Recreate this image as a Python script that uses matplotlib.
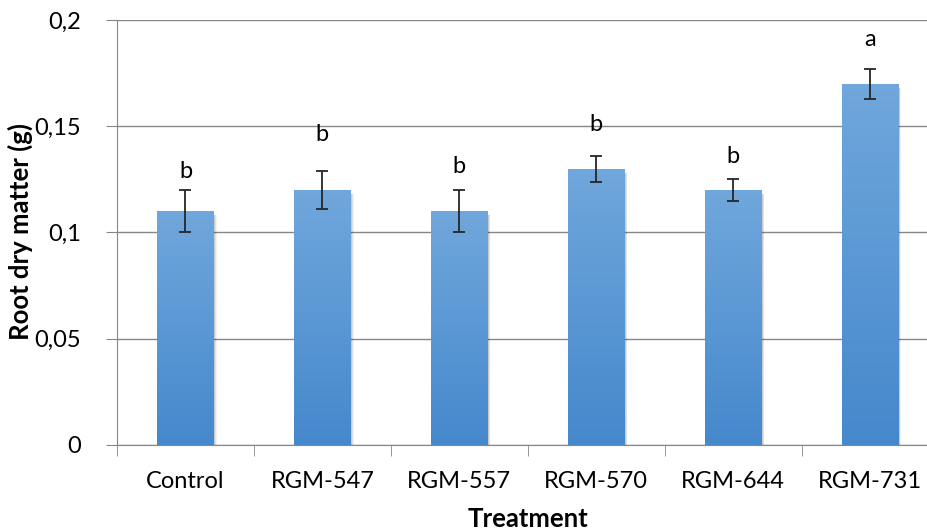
import numpy as np
import matplotlib
matplotlib.use("Agg")
import matplotlib.pyplot as plt
from matplotlib.colors import LinearSegmentedColormap
from matplotlib.ticker import FuncFormatter

# Datos
tratamientos = ["Control", "RGM-547", "RGM-557", "RGM-570", "RGM-644", "RGM-731"]
materia_seca = [0.11, 0.12, 0.11, 0.13, 0.12, 0.17]
error = [0.010, 0.009, 0.010, 0.006, 0.005, 0.007]
letras = ["b", "b", "b", "b", "b", "a"]
pos_letras = [0.1285, 0.146, 0.131, 0.151, 0.136, 0.191]

plt.rcParams["font.family"] = ["Lato", "DejaVu Sans"]

fig = plt.figure(figsize=(9.27, 5.31), dpi=100)
ax = fig.add_axes([0.1262, 0.162, 0.8862, 0.8003])

x = np.arange(len(tratamientos))
ancho = 0.41
gris = "#868686"

# grid
ax.set_yticks([0, 0.05, 0.1, 0.15, 0.2])
ax.yaxis.grid(True, color=gris, linewidth=1.0, zorder=0)
ax.set_axisbelow(True)

# sombra de las barras
for xi, v in zip(x, materia_seca):
    for k, a in enumerate([0.09, 0.07, 0.05]):
        d = 0.006 * (k + 1)
        ax.add_patch(plt.Rectangle((xi - ancho / 2 + 0.005, -0.001), ancho + d,
                                   v - 0.001 + d * 0.01, color="black",
                                   alpha=a, lw=0, zorder=1))

# barras con degradado
barras = ax.bar(x, materia_seca, width=ancho, color="none", zorder=2)
cmap = LinearSegmentedColormap.from_list("azul", ["#4588cc", "#70a7dc"])
grad = np.linspace(0, 1, 256).reshape(-1, 1)
for b in barras:
    x0, y0 = b.get_x(), b.get_y()
    w, h = b.get_width(), b.get_height()
    im = ax.imshow(grad, cmap=cmap, aspect="auto", origin="lower",
                   extent=[x0, x0 + w, y0, y0 + h], zorder=2)
    im.set_clip_path(b)
ax.set_xlim(-0.5, len(tratamientos) - 0.5)
ax.set_ylim(0, 0.2)

ax.errorbar(x, materia_seca, yerr=error, fmt="none", ecolor="#262626",
            elinewidth=1.3, capsize=4.5, capthick=1.3, zorder=3)

for xi, l, yl in zip(x, letras, pos_letras):
    ax.text(xi, yl, l, ha="center", va="center", fontsize=17, zorder=4)

# ejes
for s in ["top", "right"]:
    ax.spines[s].set_visible(False)
ax.spines["left"].set_color(gris)
ax.spines["bottom"].set_color(gris)

ax.set_xticks(x)
ax.set_xticklabels(tratamientos, fontsize=17)
ax.set_xticks(np.arange(-0.5, len(tratamientos), 1), minor=True)
ax.tick_params(axis="x", which="major", length=0, pad=19)
ax.tick_params(axis="x", which="minor", length=8, color=gris)
ax.tick_params(axis="y", length=8, color=gris, labelsize=17, pad=18)
ax.yaxis.set_major_formatter(FuncFormatter(
    lambda v, p: "0" if v == 0 else ("%g" % round(v, 3)).replace(".", ",")))

ax.set_xlabel("Treatment", fontsize=18.5, fontweight="bold", va="center")
ax.set_ylabel("Root dry matter (g)", fontsize=18.5, fontweight="bold", va="center")
ax.xaxis.set_label_coords(0.5, -0.174)
ax.yaxis.set_label_coords(-0.118, 0.503)

plt.savefig("out.png", dpi=100)
